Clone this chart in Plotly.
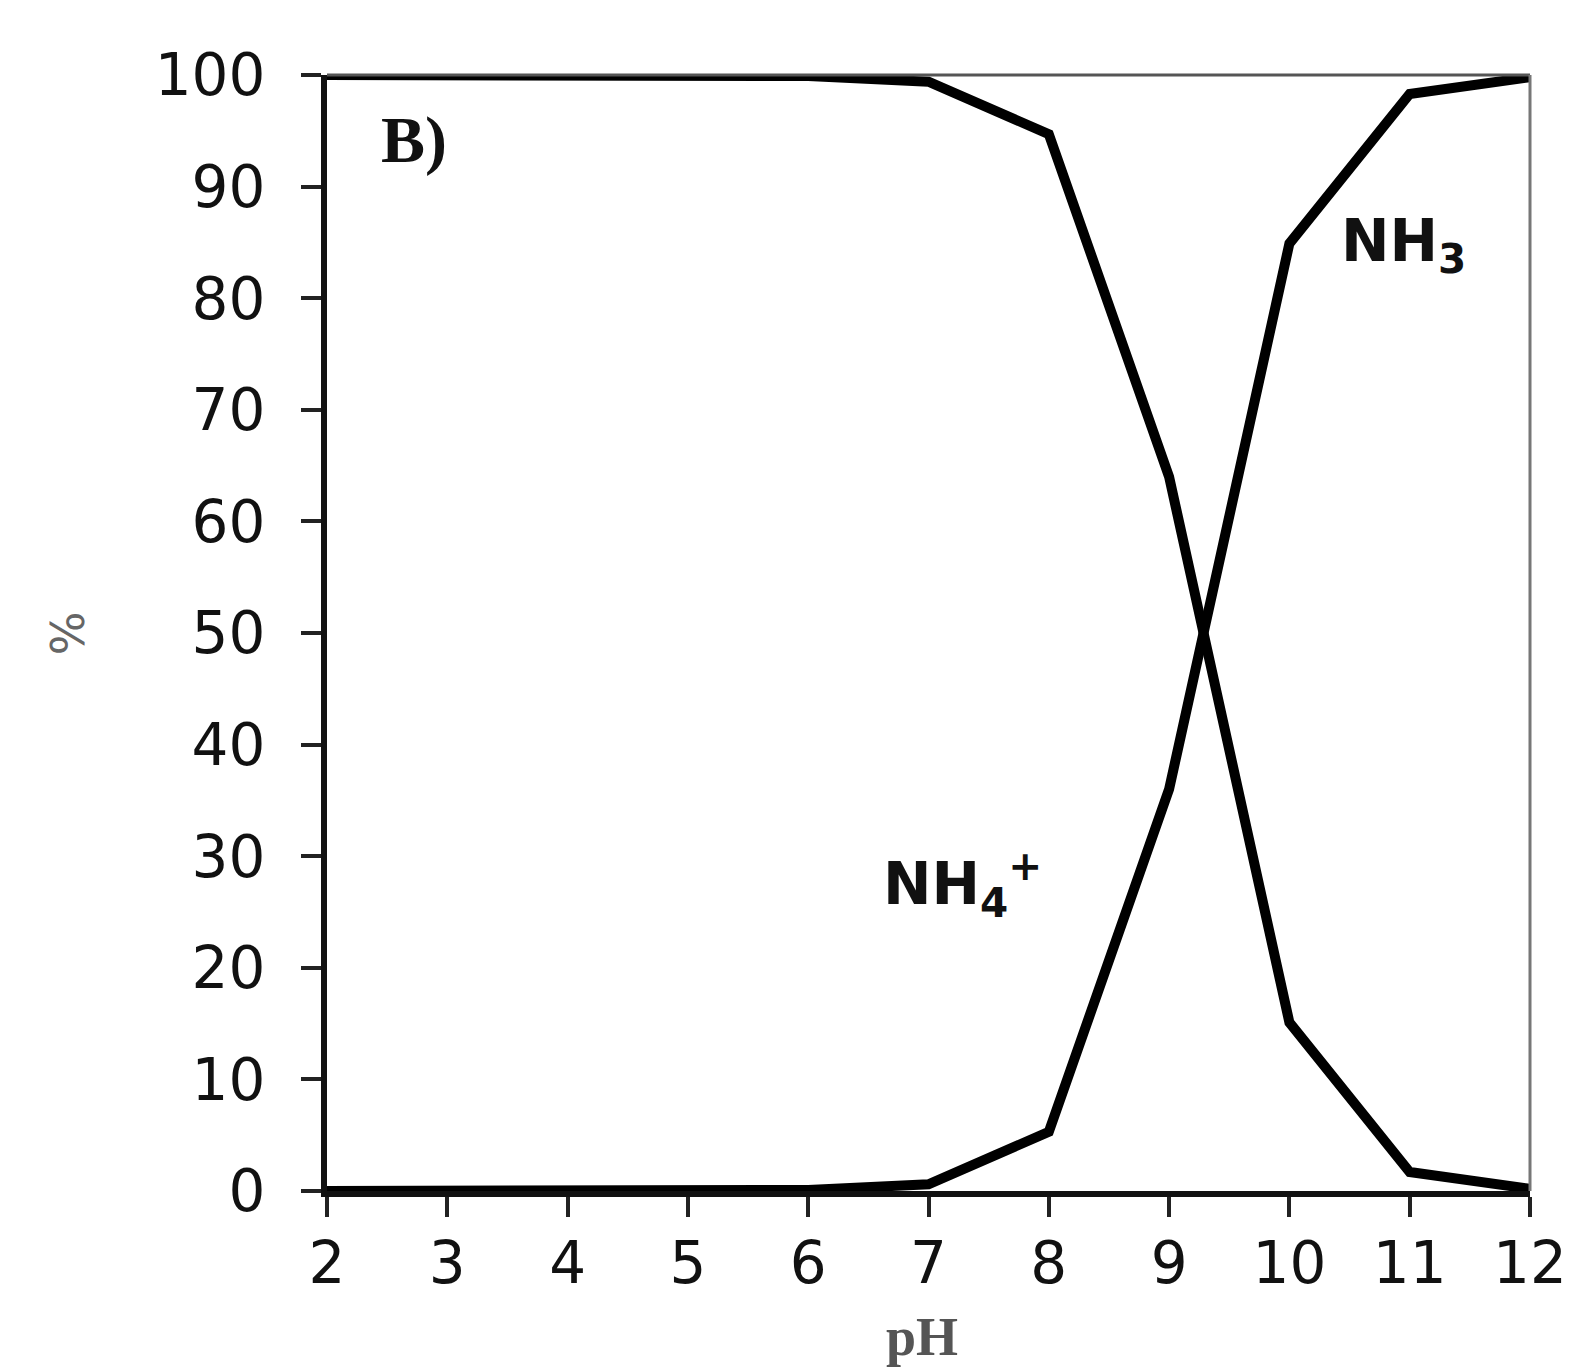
import plotly.graph_objects as go

ph = [2, 3, 4, 5, 6, 7, 8, 9, 10, 11, 12]
nh4 = [100, 100, 100, 100, 99.9, 99.4, 94.7, 64.0, 15.1, 1.7, 0.2]
nh3 = [0, 0, 0, 0, 0.1, 0.6, 5.3, 36.0, 84.9, 98.3, 99.8]
x_ticks = [2, 3, 4, 5, 6, 7, 8, 9, 10, 11, 12]
y_ticks = [0, 10, 20, 30, 40, 50, 60, 70, 80, 90, 100]

fig = go.Figure()
fig.add_trace(go.Scatter(x=ph, y=nh4, mode="lines", line=dict(color="black", width=10),
                         name="NH4+", showlegend=False, cliponaxis=False))
fig.add_trace(go.Scatter(x=ph, y=nh3, mode="lines", line=dict(color="black", width=10),
                         name="NH3", showlegend=False, cliponaxis=False))

tickfont = dict(family="DejaVu Sans", size=58, color="#111")
fig.update_xaxes(range=[2, 12], tickvals=x_ticks, ticks="outside", ticklen=20, tickwidth=4,
                 tickcolor="#222", showline=True, linecolor="#111", linewidth=6,
                 showgrid=False, zeroline=False, tickfont=tickfont, ticklabelstandoff=-4)
fig.update_yaxes(range=[0, 100], tickvals=y_ticks, ticks="outside", ticklen=20, tickwidth=4,
                 tickcolor="#222", showline=True, linecolor="#111", linewidth=6,
                 showgrid=False, zeroline=False, tickfont=tickfont, ticklabelstandoff=24)

# top and right frame
fig.add_shape(type="line", xref="paper", yref="paper", x0=0, x1=1, y0=1, y1=1,
              line=dict(color="#555", width=3))
fig.add_shape(type="line", xref="paper", yref="paper", x0=1, x1=1, y0=0, y1=1,
              line=dict(color="#777", width=3))

fig.add_annotation(x=0.072, y=0.942, xref="paper", yref="paper", text="<b>B)</b>", showarrow=False,
                   font=dict(family="Liberation Serif", size=66, color="#111"),
                   xanchor="center", yanchor="middle")
fig.add_annotation(xref="x", yref="y", x=10.95, y=84.8, text="<b>NH<sub>3</sub></b>", showarrow=False,
                   font=dict(family="DejaVu Sans", size=58, color="#111"),
                   xanchor="center", yanchor="middle")
fig.add_annotation(xref="x", yref="y", x=7.28, y=27.5, text="<b>NH<sub>4</sub><sup>+</sup></b>", showarrow=False,
                   font=dict(family="DejaVu Sans", size=58, color="#111"),
                   xanchor="center", yanchor="middle")
fig.add_annotation(xref="paper", yref="paper", x=-0.215, y=0.5, text="%", showarrow=False,
                   textangle=-90, font=dict(family="DejaVu Sans", size=46, color="#666"),
                   xanchor="center", yanchor="middle")
fig.add_annotation(xref="paper", yref="paper", x=0.495, y=-0.131, text="<b>pH</b>", showarrow=False,
                   font=dict(family="Liberation Serif", size=54, color="#555"),
                   xanchor="center", yanchor="middle")

fig.update_layout(width=1579, height=1367, margin=dict(l=327, r=46, t=75, b=176),
                  plot_bgcolor="white", paper_bgcolor="white")
fig.write_html("out.html")
